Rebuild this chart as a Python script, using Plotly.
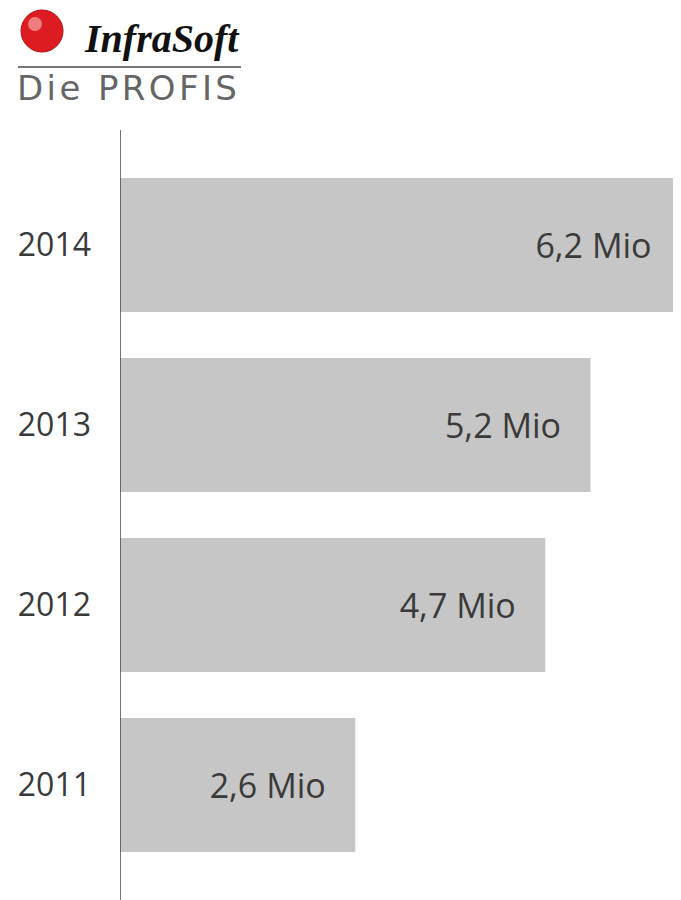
import plotly.graph_objects as go

jahre = ['2011', '2012', '2013', '2014']
umsatz = [2.6, 4.7, 5.2, 6.2]
labels = ['2,6 Mio', '4,7 Mio', '5,2 Mio', '6,2 Mio']

pad = '\u00a0' * 3
fig = go.Figure(go.Bar(
    x=umsatz, y=jahre, orientation='h',
    marker=dict(color='#c6c6c6', line=dict(width=0)),
    width=0.745, hoverinfo='skip',
    text=[t + pad for t in labels], textposition='inside', insidetextanchor='end',
    textangle=0, constraintext='none',
    textfont=dict(size=34, color='#3a3a3a', family='Open Sans'),
))


# logo in screen pixel coords (page has an 8px body margin)
def px(x):
    return (x - 120) / 569


def py(y):
    return (908 - y) / 778


# axis line
fig.add_shape(type='line', xref='x', yref='paper', x0=0, x1=0, y0=0, y1=1,
              line=dict(color='#444', width=1.5))

fig.add_shape(type='circle', xref='paper', yref='paper',
              x0=px(21), x1=px(63), y0=py(52), y1=py(10),
              fillcolor='#dd1c22', line=dict(color='#b01015', width=1))
fig.add_shape(type='circle', xref='paper', yref='paper',
              x0=px(28), x1=px(42), y0=py(31), y1=py(17),
              fillcolor='rgba(255,190,190,0.6)', line=dict(width=0))
fig.add_shape(type='line', xref='paper', yref='paper',
              x0=px(18), x1=px(241), y0=py(67), y1=py(67),
              line=dict(color='#777', width=2))
fig.add_annotation(xref='paper', yref='paper', x=px(242), y=py(39), xanchor='right',
                   yanchor='middle', showarrow=False, text='<b><i>InfraSoft</i></b>',
                   font=dict(size=40, color='#111', family='Liberation Serif'))
fig.add_annotation(xref='paper', yref='paper', x=px(15), y=py(88), xanchor='left',
                   yanchor='middle', showarrow=False,
                   text='\u200a'.join('Die PROFIS'),
                   font=dict(size=34, color='#666', family='DejaVu Sans'))

fig.update_layout(
    width=681, height=900,
    margin=dict(l=112, r=0, t=122, b=0, autoexpand=False),
    paper_bgcolor='white', plot_bgcolor='white',
    showlegend=False,
    xaxis=dict(range=[0, 6.2 * 569 / 561], visible=False, fixedrange=True),
    yaxis=dict(type='category', range=[-0.683, 3.639], showgrid=False, zeroline=False,
               showline=False, ticks='', ticklabelstandoff=28, automargin=False,
               tickfont=dict(size=32, color='#3a3a3a', family='Open Sans')),
    font=dict(family='Open Sans'),
)

fig.write_html('out.html')
